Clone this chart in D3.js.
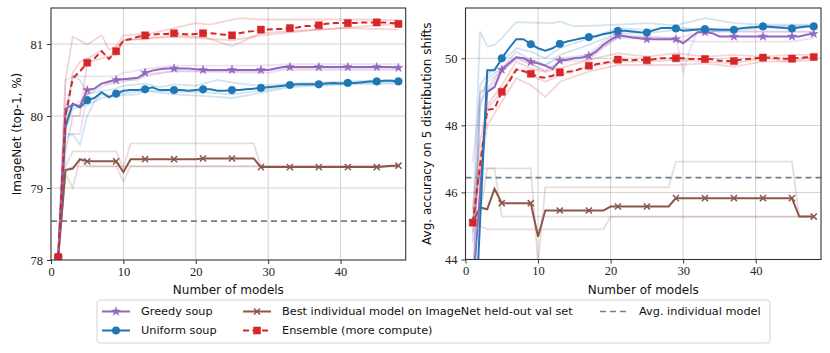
<!DOCTYPE html>
<html lang="en">
<head>
<meta charset="UTF-8">
<title>Model soups</title>
<style>
    body { margin: 0; background: #fff; }
    svg { display: block; }
</style>
<script src="https://d3js.org/d3.v7.min.js"></script>
</head>
<body>
<div id="chart"></div>
<script>
// number of models on the x axis
const models = d3.range(1, 49);

// ---- left panel: ImageNet top-1 ----
const inGreedy = [78.04, 80.1, 80.16, 80.14, 80.36, 80.38, 80.45, 80.48, 80.5, 80.51, 80.52, 80.53, 80.6, 80.63, 80.65, 80.66,
    80.66, 80.66, 80.66, 80.65, 80.64, 80.64, 80.64, 80.64, 80.64, 80.64, 80.64, 80.64, 80.64, 80.64, 80.66, 80.68,
    80.68, 80.68, 80.68, 80.68, 80.68, 80.68, 80.68, 80.68, 80.68, 80.68, 80.68, 80.68, 80.68, 80.68, 80.68, 80.67];
const inUniform = [78.04, 79.85, 80.17, 80.12, 80.22, 80.25, 80.33, 80.26, 80.31, 80.35, 80.36, 80.36, 80.37, 80.4, 80.36, 80.36,
    80.36, 80.36, 80.35, 80.36, 80.37, 80.37, 80.35, 80.35, 80.36, 80.36, 80.37, 80.38, 80.39, 80.4, 80.41, 80.42,
    80.43, 80.44, 80.44, 80.44, 80.44, 80.45, 80.46, 80.45, 80.46, 80.46, 80.47, 80.48, 80.48, 80.49, 80.49, 80.48];
const inBest = [78.04, 79.25, 79.27, 79.4, 79.37, 79.37, 79.37, 79.37, 79.37, 79.22, 79.4, 79.4, 79.4, 79.4, 79.4, 79.4,
    79.4, 79.4, 79.4, 79.4, 79.41, 79.41, 79.41, 79.41, 79.41, 79.41, 79.41, 79.41, 79.29, 79.29, 79.29, 79.29,
    79.29, 79.29, 79.29, 79.29, 79.29, 79.29, 79.29, 79.29, 79.29, 79.29, 79.29, 79.29, 79.29, 79.3, 79.31, 79.31];
const inEnsemble = [78.04, 80.0, 80.52, 80.62, 80.74, 80.8, 80.9, 80.79, 80.9, 81.05, 81.07, 81.1, 81.12, 81.13, 81.14, 81.14,
    81.15, 81.14, 81.13, 81.14, 81.15, 81.15, 81.14, 81.13, 81.12, 81.15, 81.17, 81.18, 81.2, 81.2, 81.21, 81.21,
    81.22, 81.23, 81.25, 81.25, 81.26, 81.28, 81.29, 81.29, 81.29, 81.29, 81.3, 81.3, 81.3, 81.3, 81.29, 81.28];
const inAvgIndividual = 78.54;

// individual runs (faint lines), [models, accuracy]
const inGreedyRuns = [
    [[1, 78.04], [2, 80.5], [3, 80.55], [9, 80.55], [10, 80.6], [13, 80.65], [17, 80.7], [29, 80.7], [33, 80.72], [48, 80.72]],
    [[1, 78.04], [2, 79.7], [3, 79.75], [4, 79.75], [5, 80.3], [7, 80.45], [9, 80.45], [13, 80.55], [17, 80.63], [29, 80.62], [32, 80.66], [48, 80.66]],
    [[1, 78.04], [2, 80.1], [3, 80.15], [4, 80.2], [5, 80.3], [8, 80.45], [9, 80.5], [12, 80.5], [13, 80.58], [17, 80.62], [30, 80.6], [32, 80.64], [48, 80.64]]
];
const inUniformRuns = [
    [[1, 78.04], [2, 79.75], [3, 79.75], [4, 79.6], [5, 80.0], [6, 80.2], [7, 80.3], [9, 80.28], [12, 80.3], [13, 80.35], [21, 80.33], [25, 80.3], [29, 80.35], [33, 80.42], [41, 80.45], [48, 80.47]],
    [[1, 78.04], [2, 80.1], [3, 80.55], [4, 80.5], [5, 80.3], [7, 80.35], [9, 80.38], [10, 80.42], [13, 80.45], [15, 80.4], [17, 80.44], [20, 80.42], [23, 80.5], [26, 80.45], [29, 80.42], [33, 80.45], [41, 80.48], [48, 80.5]],
    [[1, 78.04], [2, 79.8], [3, 80.1], [5, 80.15], [7, 80.25], [9, 80.3], [13, 80.35], [17, 80.3], [21, 80.28], [25, 80.25], [29, 80.32], [33, 80.4], [41, 80.44], [48, 80.45]]
];
const inBestRuns = [
    [[1, 78.04], [2, 79.3], [3, 79.51], [9, 79.51], [10, 79.27], [11, 79.62], [28, 79.62], [29, 79.3], [48, 79.3]],
    [[1, 78.04], [2, 79.2], [3, 79.0], [4, 79.4], [5, 79.3], [9, 79.3], [10, 79.09], [11, 79.3], [48, 79.3]],
    [[1, 78.04], [2, 79.25], [3, 79.3], [48, 79.3]]
];
const inEnsembleRuns = [
    [[1, 78.04], [2, 80.5], [3, 81.1], [4, 81.05], [5, 80.99], [7, 81.12], [8, 80.92], [9, 80.97], [10, 81.12], [14, 81.15], [17, 81.22], [20, 81.29], [22, 81.27], [26, 81.36], [29, 81.34], [42, 81.34], [48, 81.33]],
    [[1, 78.04], [2, 79.8], [3, 80.6], [4, 80.75], [5, 80.8], [7, 80.9], [8, 80.8], [9, 80.95], [10, 81.05], [17, 81.12], [21, 81.1], [25, 80.97], [29, 81.15], [33, 81.18], [41, 81.22], [48, 81.2]],
    [[1, 78.04], [2, 79.5], [3, 80.0], [4, 80.0], [5, 80.74], [7, 80.8], [9, 80.85], [10, 81.05], [17, 81.1], [21, 81.08], [25, 81.05], [29, 81.12], [37, 81.2], [48, 81.28]]
];

// ---- right panel: avg accuracy on 5 distribution shifts ----
const dsGreedy = [43.0, 46.0, 49.0, 49.14, 49.66, 49.85, 50.03, 50.0, 49.89, 49.85, 49.78, 49.68, 49.93, 49.96, 50.0, 50.02,
    50.07, 50.2, 50.4, 50.55, 50.68, 50.66, 50.62, 50.6, 50.57, 50.57, 50.57, 50.57, 50.57, 50.45, 50.62, 50.78,
    50.78, 50.75, 50.65, 50.65, 50.65, 50.65, 50.65, 50.65, 50.65, 50.65, 50.65, 50.65, 50.65, 50.65, 50.7, 50.73];
const dsUniform = [40.5, 45.1, 49.64, 49.64, 50.0, 50.3, 50.57, 50.57, 50.42, 50.3, 50.23, 50.3, 50.43, 50.5, 50.55, 50.6,
    50.63, 50.66, 50.72, 50.76, 50.82, 50.82, 50.8, 50.78, 50.77, 50.84, 50.9, 50.9, 50.89, 50.82, 50.84, 50.86,
    50.87, 50.86, 50.85, 50.85, 50.85, 50.9, 50.92, 50.93, 50.95, 50.94, 50.92, 50.9, 50.89, 50.92, 50.95, 50.95];
const dsBest = [45.1, 45.55, 45.5, 46.11, 45.68, 45.68, 45.68, 45.68, 45.68, 44.68, 45.46, 45.46, 45.46, 45.46, 45.46, 45.46,
    45.46, 45.46, 45.46, 45.58, 45.58, 45.58, 45.58, 45.58, 45.58, 45.58, 45.58, 45.58, 45.83, 45.83, 45.83, 45.83,
    45.83, 45.83, 45.83, 45.83, 45.83, 45.83, 45.83, 45.83, 45.83, 45.83, 45.83, 45.83, 45.83, 45.28, 45.28, 45.28];
const dsEnsemble = [45.1, 46.8, 48.46, 48.5, 49.0, 49.3, 49.66, 49.62, 49.54, 49.45, 49.42, 49.48, 49.58, 49.6, 49.62, 49.7,
    49.78, 49.82, 49.86, 49.9, 49.96, 49.95, 49.94, 49.96, 49.94, 49.97, 50.0, 50.0, 50.0, 50.0, 49.98, 49.98,
    49.98, 49.97, 49.93, 49.92, 49.92, 49.96, 49.98, 50.0, 50.02, 50.02, 50.0, 49.99, 49.99, 50.01, 50.03, 50.04];
const dsAvgIndividual = 46.44;

const dsGreedyRuns = [
    [[1, 46.9], [2, 48.9], [3, 49.3], [5, 49.6], [7, 50.0], [9, 49.85], [11, 49.6], [13, 49.9], [17, 50.1], [19, 50.5], [21, 50.7], [29, 50.6], [30, 49.6], [31, 50.3], [32, 50.8], [48, 50.78]],
    [[1, 43.0], [2, 49.0], [3, 49.1], [5, 49.7], [7, 50.05], [9, 49.95], [11, 49.8], [13, 50.0], [17, 50.1], [21, 50.6], [29, 50.55], [32, 50.5], [45, 50.5], [48, 50.6]],
    [[1, 43.0], [2, 48.7], [3, 49.0], [5, 49.6], [7, 50.0], [9, 49.8], [11, 49.65], [13, 49.9], [17, 49.95], [21, 50.65], [29, 50.6], [31, 50.7], [33, 50.8], [48, 50.8]]
];
const dsUniformRuns = [
    [[1, 45.0], [2, 50.8], [3, 50.35], [4, 50.4], [5, 50.6], [7, 51.08], [12, 51.05], [13, 51.1], [15, 50.95], [21, 51.0], [25, 51.05], [29, 50.98], [33, 51.2], [37, 51.05], [41, 51.0], [48, 51.0]],
    [[1, 44.5], [2, 49.2], [3, 49.5], [5, 49.9], [7, 50.3], [9, 50.2], [11, 50.0], [13, 50.3], [17, 50.6], [21, 50.9], [25, 50.85], [29, 50.95], [33, 50.8], [37, 50.85], [41, 50.9], [48, 50.95]],
    [[1, 43.0], [2, 48.5], [3, 49.4], [5, 49.7], [7, 50.2], [9, 49.95], [11, 49.8], [13, 50.1], [17, 50.4], [21, 50.75], [25, 50.75], [29, 50.85], [33, 50.9], [37, 50.85], [41, 50.95], [48, 50.98]]
];
const dsBestRuns = [
    [[1, 45.1], [2, 46.72], [9, 46.72], [10, 43.86], [11, 46.15], [28, 46.15], [29, 46.92], [45, 46.92], [46, 45.28], [48, 45.28]],
    [[1, 45.1], [2, 45.3], [3, 46.72], [4, 46.72], [5, 45.28], [48, 45.28]],
    [[1, 45.1], [2, 45.0], [3, 44.9], [19, 44.9], [20, 45.28], [48, 45.28]]
];
const dsEnsembleRuns = [
    [[1, 45.5], [2, 47.5], [3, 48.6], [5, 49.2], [7, 49.9], [9, 49.7], [11, 49.6], [13, 49.7], [17, 49.95], [21, 50.15], [25, 50.05], [29, 50.15], [33, 50.05], [37, 50.1], [41, 50.05], [45, 50.1], [48, 50.1]],
    [[1, 45.0], [2, 47.0], [3, 48.5], [5, 49.0], [7, 49.7], [9, 49.5], [11, 49.3], [13, 49.5], [17, 49.75], [21, 49.9], [25, 49.9], [29, 49.95], [33, 49.9], [37, 49.85], [41, 50.0], [45, 49.9], [48, 50.05]],
    [[1, 44.8], [2, 46.5], [3, 48.0], [5, 48.7], [7, 49.4], [9, 49.2], [11, 48.85], [13, 49.3], [17, 49.6], [21, 49.8], [25, 49.8], [29, 49.8], [33, 49.85], [37, 49.75], [41, 49.9], [45, 49.9], [48, 49.95]]
];

const xTicks = [0, 10, 20, 30, 40];
const inTicks = [78, 79, 80, 81];
const dsTicks = [44, 46, 48, 50];

const legendLabels = ["Greedy soup", "Uniform soup", "Best individual model on ImageNet held-out val set",
    "Ensemble (more compute)", "Avg. individual model"];

const colors = { greedy: "#9467bd", uniform: "#1f77b4", best: "#8c564b", ens: "#d62728", avg: "#6f7f92" };

const svg = d3.select("#chart").append("svg").attr("width", 830).attr("height", 353);

const sans = "'DejaVu Sans', sans-serif";
const serif = "'Liberation Serif', 'DejaVu Serif', serif";

// marker shapes
const sym = {
    greedy: d3.symbol().type(d3.symbolStar).size(24),
    uniform: d3.symbol().type(d3.symbolCircle).size(46),
    best: d3.symbol().type(d3.symbolX).size(26),
    ens: d3.symbol().type(d3.symbolSquare).size(50)
};
// matplotlib markevery style: every 4th model plus the last
const markIdx = d3.range(0, 48, 4).concat([47]);

function drawPanel(opt) {
    const x = d3.scaleLinear().domain([0, 49]).range([opt.left, opt.right]);
    const y = d3.scaleLinear().domain(opt.yDomain).range([opt.bottom, 8]);
    const g = svg.append("g");
    const clipId = "clip" + opt.id;
    svg.append("clipPath").attr("id", clipId).append("rect")
        .attr("x", opt.left).attr("y", 8).attr("width", opt.right - opt.left).attr("height", opt.bottom - 8);

    // grid
    g.selectAll(".gx").data(xTicks.filter(d => d > 0)).join("line")
        .attr("x1", d => x(d)).attr("x2", d => x(d)).attr("y1", 8).attr("y2", opt.bottom)
        .attr("stroke", "#d0d0d0").attr("stroke-width", 1);
    g.selectAll(".gy").data(opt.yTicks.filter(d => d > opt.yDomain[0])).join("line")
        .attr("x1", opt.left).attr("x2", opt.right).attr("y1", d => y(d)).attr("y2", d => y(d))
        .attr("stroke", "#d0d0d0").attr("stroke-width", 1);

    const plot = g.append("g").attr("clip-path", `url(#${clipId})`);
    const line = d3.line().x(d => x(d[0])).y(d => y(d[1]));

    // faint individual runs
    opt.runs.forEach(r => {
        r.data.forEach(run => {
            plot.append("path").attr("d", line(run)).attr("fill", "none")
                .attr("stroke", colors[r.key]).attr("stroke-opacity", 0.2).attr("stroke-width", 1.8);
        });
    });

    // average individual model
    plot.append("line").attr("x1", opt.left).attr("x2", opt.right)
        .attr("y1", y(opt.avg)).attr("y2", y(opt.avg))
        .attr("stroke", colors.avg).attr("stroke-width", 1.7).attr("stroke-dasharray", "6,4");

    // main curves
    opt.series.forEach(s => {
        const pts = models.map((m, i) => [m, s.values[i]]);
        plot.append("path").attr("d", line(pts)).attr("fill", "none")
            .attr("stroke", colors[s.key]).attr("stroke-width", 2)
            .attr("stroke-dasharray", s.key === "ens" ? "6,3.5" : null);
        plot.selectAll(null).data(markIdx.map(i => pts[i])).join("path")
            .attr("d", sym[s.key])
            .attr("transform", d => `translate(${x(d[0])},${y(d[1])})`)
            .attr("fill", colors[s.key])
            .attr("stroke", colors[s.key]).attr("stroke-width", s.key === "best" ? 1.5 : 0.5);
    });

    // frame
    g.append("rect").attr("x", opt.left).attr("y", 8).attr("width", opt.right - opt.left).attr("height", opt.bottom - 8)
        .attr("fill", "none").attr("stroke", "#333").attr("stroke-width", 1.1);

    // axes
    const xAxis = d3.axisBottom(x).tickValues(xTicks).tickSize(4).tickPadding(3).tickFormat(d3.format("d"));
    const yAxis = d3.axisLeft(y).tickValues(opt.yTicks).tickSize(4).tickPadding(4).tickFormat(d3.format("d"));
    const gx = g.append("g").attr("transform", `translate(0,${opt.bottom})`).call(xAxis);
    const gy = g.append("g").attr("transform", `translate(${opt.left},0)`).call(yAxis);
    [gx, gy].forEach(a => {
        a.select(".domain").remove();
        a.selectAll("line").attr("stroke", "#333");
        a.selectAll("text").attr("fill", "#222").style("font-family", serif).style("font-size", "12.5px");
    });

    g.append("text").attr("x", (opt.left + opt.right) / 2).attr("y", 294)
        .attr("text-anchor", "middle").style("font-family", sans).style("font-size", "12px").attr("fill", "#111")
        .text("Number of models");
    g.append("text").attr("transform", `translate(${opt.labelX},${(8 + opt.bottom) / 2}) rotate(-90)`)
        .attr("text-anchor", "middle").style("font-family", sans).style("font-size", "12px").attr("fill", "#111")
        .text(opt.yLabel);
}

drawPanel({
    id: "L", left: 51, right: 405.7, bottom: 260, yDomain: [78, 81.5], yTicks: inTicks,
    avg: inAvgIndividual, labelX: 21, yLabel: "ImageNet (top-1, %)",
    runs: [{ key: "best", data: inBestRuns }, { key: "uniform", data: inUniformRuns },
        { key: "greedy", data: inGreedyRuns }, { key: "ens", data: inEnsembleRuns }],
    series: [{ key: "best", values: inBest }, { key: "uniform", values: inUniform },
        { key: "greedy", values: inGreedy }, { key: "ens", values: inEnsemble }]
});
drawPanel({
    id: "R", left: 465.5, right: 821, bottom: 259.5, yDomain: [44, 51.5], yTicks: dsTicks,
    avg: dsAvgIndividual, labelX: 431, yLabel: "Avg. accuracy on 5 distribution shifts",
    runs: [{ key: "best", data: dsBestRuns }, { key: "greedy", data: dsGreedyRuns },
        { key: "ens", data: dsEnsembleRuns }, { key: "uniform", data: dsUniformRuns }],
    series: [{ key: "best", values: dsBest }, { key: "greedy", values: dsGreedy },
        { key: "ens", values: dsEnsemble }, { key: "uniform", values: dsUniform }]
});

// legend
const lg = svg.append("g");
lg.append("rect").attr("x", 97).attr("y", 300).attr("width", 673).attr("height", 43).attr("rx", 3)
    .attr("fill", "#fff").attr("stroke", "#d4d4d4").attr("stroke-width", 1);
const entries = [
    { key: "greedy", x: 102, y: 311.5, label: legendLabels[0] },
    { key: "uniform", x: 102, y: 330.5, label: legendLabels[1] },
    { key: "best", x: 243, y: 311.5, label: legendLabels[2] },
    { key: "ens", x: 243, y: 330.5, label: legendLabels[3] },
    { key: "avg", x: 600, y: 311.5, label: legendLabels[4] }
];
entries.forEach(e => {
    lg.append("line").attr("x1", e.x).attr("x2", e.x + 28).attr("y1", e.y).attr("y2", e.y)
        .attr("stroke", colors[e.key]).attr("stroke-width", e.key === "avg" ? 1.7 : 2)
        .attr("stroke-dasharray", e.key === "ens" ? "6,3.5" : e.key === "avg" ? "6,4" : null);
    if (sym[e.key]) {
        lg.append("path").attr("d", sym[e.key]).attr("transform", `translate(${e.x + 14},${e.y})`)
            .attr("fill", colors[e.key]).attr("stroke", colors[e.key]).attr("stroke-width", e.key === "best" ? 1.5 : 0.5);
    }
    lg.append("text").attr("x", e.x + 39).attr("y", e.y).attr("dy", "0.35em")
        .style("font-family", sans).style("font-size", "11.3px").attr("fill", "#111").text(e.label);
});
</script>
</body>
</html>
